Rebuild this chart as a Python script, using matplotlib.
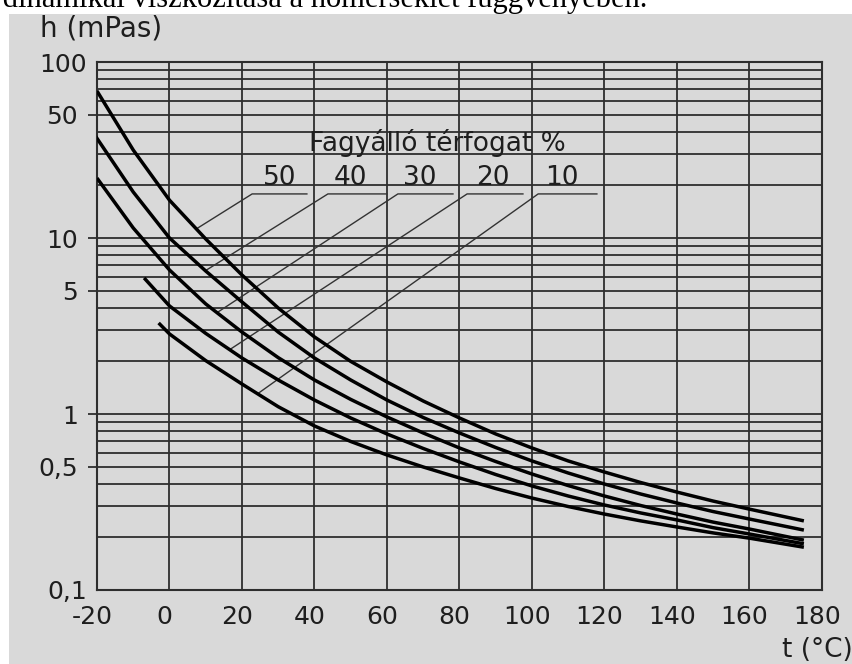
import numpy as np
import matplotlib.pyplot as plt
from matplotlib.patches import Rectangle
from matplotlib.ticker import FixedLocator, FixedFormatter, NullFormatter
from matplotlib.transforms import ScaledTranslation

# viszkozitas (mPas) a homerseklet (°C) fuggvenyeben, fagyallo terfogat % szerint
temp_50 = [-20, -10, 0, 10, 20, 30, 40, 50, 60, 70, 80, 90, 100, 110, 120, 130, 140, 150, 160, 175]
visc_50 = [68.4, 31.6, 16.4, 9.87, 6.16, 4.00, 2.74, 1.99, 1.52, 1.185, 0.949, 0.770, 0.641,
           0.541, 0.468, 0.408, 0.360, 0.320, 0.288, 0.247]

temp_40 = [-21, -10, 0, 10, 20, 30, 40, 50, 60, 70, 80, 90, 100, 110, 120, 130, 140, 150, 160, 175]
visc_40 = [39.5, 18.25, 10.0, 6.49, 4.33, 2.92, 2.08, 1.56, 1.20, 0.955, 0.780, 0.645, 0.541,
           0.462, 0.400, 0.351, 0.312, 0.279, 0.253, 0.219]

temp_30 = [-20, -10, 0, 10, 20, 30, 40, 50, 60, 70, 80, 90, 100, 110, 120, 130, 140, 150, 160, 175]
visc_30 = [21.9, 11.4, 6.58, 4.22, 2.92, 2.09, 1.56, 1.21, 0.962, 0.780, 0.641, 0.537, 0.456,
           0.392, 0.342, 0.302, 0.270, 0.243, 0.222, 0.192]

temp_20 = [-7, 0, 10, 20, 30, 40, 50, 60, 70, 80, 90, 100, 110, 120, 130, 140, 150, 160, 175]
visc_20 = [5.93, 4.11, 2.87, 2.08, 1.56, 1.20, 0.949, 0.770, 0.637, 0.534, 0.453, 0.390, 0.342,
           0.304, 0.274, 0.250, 0.226, 0.208, 0.183]

temp_10 = [-3, 0, 10, 20, 30, 40, 50, 60, 70, 80, 90, 100, 110, 120, 130, 140, 150, 160, 175]
visc_10 = [3.29, 2.85, 2.01, 1.48, 1.10, 0.855, 0.698, 0.585, 0.500, 0.433, 0.377, 0.333, 0.298,
           0.270, 0.247, 0.228, 0.211, 0.197, 0.175]

curve_labels = ['50', '40', '30', '20', '10']
label_x = [30.5, 49.8, 69.1, 89.2, 108.3]
underline_x = [(22.8, 37.9), (43.7, 60.0), (63.0, 78.2), (82.1, 97.5), (101.7, 117.9)]
leader_t = [7.4, 9.9, 13.1, 16.6, 24.3]

y_ticks = [0.1, 0.5, 1, 5, 10, 50, 100]
y_ticklabels = ['0,1', '0,5', '1', '5', '10', '50', '100']
x_ticks = list(range(-20, 181, 20))

plt.rcParams['font.family'] = ['DejaVu Sans']
plt.rcParams['axes.unicode_minus'] = False
bg = '#d9d9d9'
grid_c = '#2e2e2e'
text_c = '#1e1e1e'

fig = plt.figure(figsize=(8.53, 6.64), dpi=100, facecolor='white')
W, H = 853, 664

# gray panel + cut-off caption line above it
fig.patches.append(Rectangle((9 / W, 0), 1, (H - 14) / H, transform=fig.transFigure,
                             facecolor=bg, edgecolor='none', zorder=-2))
fig.text(647 / W, (H - 7) / H, 'A fagyálló dinamikai viszkozitása a hőmérséklet függvényében.',
         ha='right', va='baseline', fontsize=22, family='Liberation Serif', color='black', zorder=-1)

ax = fig.add_axes([97 / W, (H - 590) / H, 725 / W, 528 / H])
ax.set_facecolor(bg)
ax.set_yscale('log')
ax.set_xlim(-20, 180)
ax.set_ylim(0.1, 100)

ax.yaxis.set_major_locator(FixedLocator(y_ticks))
ax.yaxis.set_major_formatter(FixedFormatter(y_ticklabels))
minor = [m * 10.0 ** e for e in (-1, 0, 1) for m in range(1, 10) if m * 10.0 ** e not in y_ticks]
ax.yaxis.set_minor_locator(FixedLocator(minor))
ax.yaxis.set_minor_formatter(NullFormatter())
ax.xaxis.set_major_locator(FixedLocator(x_ticks))

ax.tick_params(axis='y', which='major', length=6.5, width=1.3, color=grid_c, pad=7,
               labelsize=18, labelcolor=text_c)
ax.tick_params(axis='y', which='minor', length=0)
ax.tick_params(axis='x', length=0, pad=11, labelsize=18, labelcolor=text_c)
ax.grid(True, which='both', color=grid_c, linewidth=1.3)
for s in ax.spines.values():
    s.set_color(grid_c)
    s.set_linewidth(1.5)

# 100 and 0,1 (first and last tick) have no tick mark, labels sit closer
yt = ax.yaxis.get_major_ticks(len(y_ticks))
for tick in (yt[0], yt[-1]):
    tick.tick1line.set_visible(False)
    tick.label1.set_transform(tick.label1.get_transform()
                              + ScaledTranslation(9 / 100, 0, fig.dpi_scale_trans))
for lab in ax.get_xticklabels():
    lab.set_transform(lab.get_transform() + ScaledTranslation(-5 / 100, 0, fig.dpi_scale_trans))

# blank box behind the legend text
ax.add_patch(Rectangle((21.7, 19.2), 118.2 - 21.7, 48.7 - 19.2, facecolor=bg,
                       edgecolor='none', zorder=1))

curves = [(temp_50, visc_50), (temp_40, visc_40), (temp_30, visc_30),
          (temp_20, visc_20), (temp_10, visc_10)]
for t, v in curves:
    ax.plot(t, v, color='black', linewidth=2.5, zorder=3, solid_capstyle='butt',
            solid_joinstyle='round')

ax.text(73.8, 34.7, 'Fagyálló térfogat %', ha='center', va='center', fontsize=19,
        color=text_c, zorder=4)
for (t, v), lab, lx, (u0, u1), lt in zip(curves, curve_labels, label_x, underline_x, leader_t):
    ax.text(lx, 21.9, lab, ha='center', va='center', fontsize=19, color=text_c, zorder=4)
    ly = 10 ** np.interp(lt, t, np.log10(v))
    ax.plot([u1, u0, lt], [17.8, 17.8, ly], color='#333333', linewidth=1.0, zorder=2)

fig.text(40 / W, (H - 29) / H, 'h (mPas)', ha='left', va='center', fontsize=20, color=text_c)
fig.text(853 / W, (H - 650) / H, 't (°C)', ha='right', va='center', fontsize=19, color=text_c)

fig.savefig('out.png', dpi=100, facecolor=fig.get_facecolor())
